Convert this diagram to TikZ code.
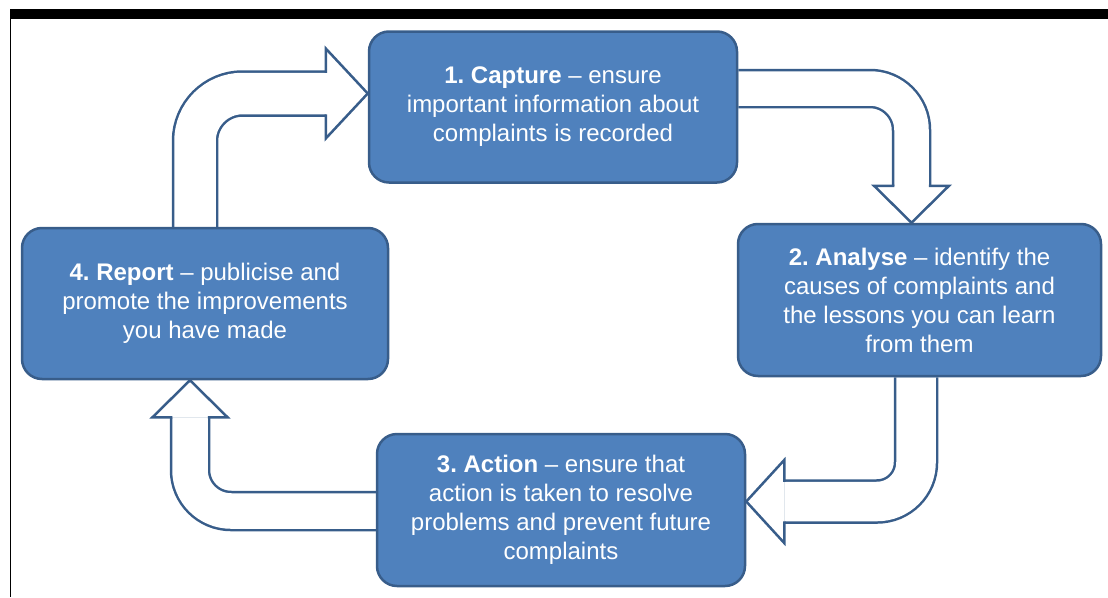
\documentclass[tikz,border=0pt]{standalone}
\usepackage{fontspec}
\setmainfont{Liberation Sans}
\usetikzlibrary{calc,backgrounds}
\definecolor{boxblue}{HTML}{4F81BD}
\definecolor{edgeblue}{HTML}{385D8A}
\tikzset{stage/.style={draw=edgeblue,line width=2.5pt,fill=boxblue,rounded corners=20pt,text=white,align=center,inner sep=0pt,font=\fontsize{24}{29}\selectfont\frenchspacing},
shaft/.style={draw=edgeblue,line width=2.5pt,double=white},
head/.style={draw=edgeblue,fill=white,line width=2.5pt,line join=miter,line cap=rect}}
\begin{document}
\begin{tikzpicture}[x=1pt,y=-1pt]
\useasboundingbox (0,0) rectangle (1108,597);
\fill (10,9) rectangle (1108,19);
\draw[line width=1.2pt] (10.6,19)--(10.6,597);
\node[stage,minimum width=368,minimum height=151] (capture) at (553,107){\textbf{1. Capture} – ensure\\important information about\\complaints is recorded};
\node[stage,minimum width=363,minimum height=152] (analyse) at (919.5,300){\textbf{2. Analyse} – identify the\\causes of complaints and\\the lessons you can learn\\from them};
\node[stage,minimum width=368,minimum height=152] (action) at (561,510){\textbf{3. Action} – ensure that\\action is taken to resolve\\problems and prevent future\\complaints};
\node[stage,minimum width=366,minimum height=151] (report) at (205,303.5){\textbf{4. Report} – publicise and\\promote the improvements\\you have made};
\begin{scope}[on background layer]
\coordinate (b1) at ($(capture.west)+(-42,-13.5)$);
\draw[shaft,double distance=41.5,rounded corners=47.5] ($(report.north)+(-10,0)$) |- (b1);
\filldraw[head] ($(b1)+(0,-22)$) -- ++(0,-23) -- ($(capture.west)+(0,-13.5)$) -- ($(b1)+(0,45)$) -- ++(0,-23);
\coordinate (b2) at ($(analyse.north)+(-8,-37)$);
\draw[shaft,double distance=34.5,rounded corners=41.5] ($(capture.east)+(0,-18.5)$) -| (b2);
\filldraw[head] ($(b2)+(-18.5,0)$) -- ++(-19,0) -- ($(analyse.north)+(-8,0)$) -- ($(b2)+(37.5,0)$) -- ++(-19,0);
\coordinate (b3) at ($(action.east)+(38,-8.5)$);
\draw[shaft,double distance=39.5,rounded corners=39] ($(analyse.south)+(-3.5,0)$) |- (b3);
\filldraw[head] ($(b3)+(0,-21)$) -- ++(0,-20.5) -- ($(action.east)+(0,-8.5)$) -- ($(b3)+(0,41.5)$) -- ++(0,-20.5);
\coordinate (b4) at ($(report.south)+(-15,37)$);
\draw[shaft,double distance=35.5,rounded corners=41] ($(action.west)+(0,1)$) -| (b4);
\filldraw[head] ($(b4)+(-19,0)$) -- ++(-18.5,0) -- ($(report.south)+(-15,0)$) -- ($(b4)+(37.5,0)$) -- ++(-18.5,0);
\end{scope}
\end{tikzpicture}
\end{document}
